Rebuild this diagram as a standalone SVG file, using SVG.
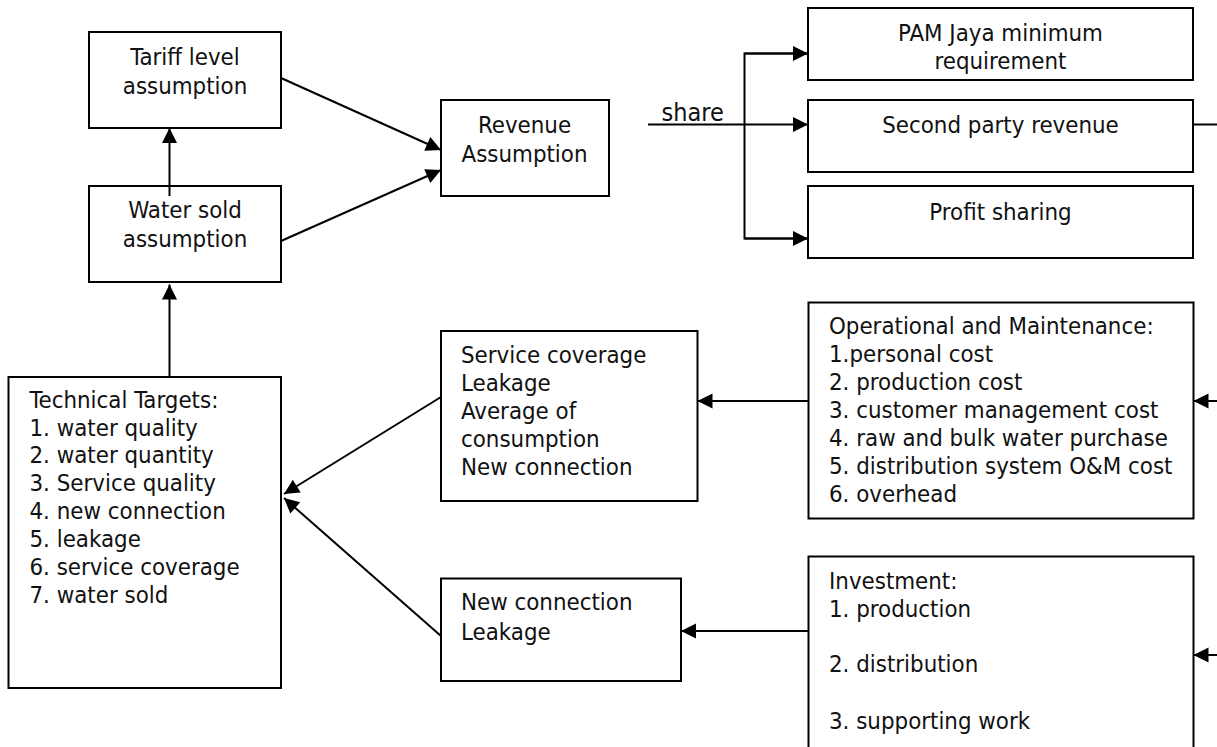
<svg xmlns="http://www.w3.org/2000/svg" width="1217" height="747" viewBox="0 0 1217 747">
<style>
.box{fill:#fff;stroke:#000;stroke-width:2}
.t{font-family:"DejaVu Sans Condensed","DejaVu Sans","Liberation Sans",sans-serif;font-stretch:condensed;font-size:23.8px;fill:#111}
.c{text-anchor:middle}
.ln{fill:none;stroke:#000;stroke-width:2}
</style>
<defs>
<marker id="ah" markerUnits="userSpaceOnUse" markerWidth="15" markerHeight="15" refX="15" refY="7.5" orient="auto" overflow="visible">
<path d="M0,0 L15,7.5 L0,15 z" fill="#000"/>
</marker>
</defs>
<rect width="1217" height="747" fill="#fff"/>

<g id="tariff">
<rect class="box" x="89" y="32" width="192" height="96"/>
<text class="t c" x="185" y="64.5">Tariff level</text>
<text class="t c" x="185" y="93.5">assumption</text>
</g>
<g id="watersold">
<rect class="box" x="89" y="186" width="192" height="96"/>
<text class="t c" x="185" y="218">Water sold</text>
<text class="t c" x="185" y="247">assumption</text>
</g>
<g id="revenue">
<rect class="box" x="441" y="100" width="168" height="96"/>
<text class="t c" x="524.5" y="133">Revenue</text>
<text class="t c" x="524.5" y="162">Assumption</text>
</g>
<g id="pam">
<rect class="box" x="808" y="8" width="385" height="72"/>
<text class="t c" x="1000.5" y="41">PAM Jaya minimum</text>
<text class="t c" x="1000.5" y="68.5">requirement</text>
</g>
<g id="secondparty">
<rect class="box" x="808" y="100" width="385" height="72"/>
<text class="t c" x="1000.5" y="133">Second party revenue</text>
</g>
<g id="profit">
<rect class="box" x="808" y="186" width="385" height="72"/>
<text class="t c" x="1000.5" y="220">Profit sharing</text>
</g>
<g id="technical">
<rect class="box" x="8.5" y="377" width="272.5" height="311"/>
<text class="t" x="29.5" y="408">Technical Targets:</text>
<text class="t" x="29.5" y="435.5">1. water quality</text>
<text class="t" x="29.5" y="463">2. water quantity</text>
<text class="t" x="29.5" y="490.5">3. Service quality</text>
<text class="t" x="29.5" y="518.5">4. new connection</text>
<text class="t" x="29.5" y="546.5">5. leakage</text>
<text class="t" x="29.5" y="574.5">6. service coverage</text>
<text class="t" x="29.5" y="603">7. water sold</text>
</g>
<g id="servicecov">
<rect class="box" x="441" y="331" width="256.5" height="170"/>
<text class="t" x="461" y="363">Service coverage</text>
<text class="t" x="461" y="390.5">Leakage</text>
<text class="t" x="461" y="418.5">Average of</text>
<text class="t" x="461" y="446.5">consumption</text>
<text class="t" x="461" y="475">New connection</text>
</g>
<g id="newconn">
<rect class="box" x="441" y="578.5" width="240" height="102.5"/>
<text class="t" x="461" y="610">New connection</text>
<text class="t" x="461" y="640">Leakage</text>
</g>
<g id="om">
<rect class="box" x="808.5" y="302.5" width="385" height="216"/>
<text class="t" x="829" y="333.5">Operational and Maintenance:</text>
<text class="t" x="829" y="361.5">1.personal cost</text>
<text class="t" x="829" y="390">2. production cost</text>
<text class="t" x="829" y="418">3. customer management cost</text>
<text class="t" x="829" y="446">4. raw and bulk water purchase</text>
<text class="t" x="829" y="474">5. distribution system O&amp;M cost</text>
<text class="t" x="829" y="502">6. overhead</text>
</g>
<g id="investment">
<rect class="box" x="808.5" y="556.5" width="385" height="200"/>
<text class="t" x="829" y="588.5">Investment:</text>
<text class="t" x="829" y="617">1. production</text>
<text class="t" x="829" y="672">2. distribution</text>
<text class="t" x="829" y="728.5">3. supporting work</text>
</g>

<g id="connectors">
<line class="ln" x1="169.5" y1="196" x2="169.5" y2="128" marker-end="url(#ah)"/>
<line class="ln" x1="169.5" y1="377" x2="169.5" y2="284.5" marker-end="url(#ah)"/>
<line class="ln" x1="281" y1="78" x2="441" y2="150" marker-end="url(#ah)"/>
<line class="ln" x1="281" y1="241" x2="441" y2="170" marker-end="url(#ah)"/>
<line class="ln" x1="648" y1="124.5" x2="808" y2="124.5" marker-end="url(#ah)"/>
<polyline class="ln" points="808,53.5 744.5,53.5 744.5,238.5 808,238.5"/>
<line class="ln" x1="744.5" y1="53.5" x2="808" y2="53.5" marker-end="url(#ah)"/>
<line class="ln" x1="744.5" y1="238.5" x2="808" y2="238.5" marker-end="url(#ah)"/>
<text class="t" x="661.5" y="121" style="font-size:25px">share</text>
<line class="ln" x1="1193" y1="124.5" x2="1217" y2="124.5"/>
<line class="ln" x1="808.5" y1="401" x2="697.5" y2="401" marker-end="url(#ah)"/>
<line class="ln" x1="808.5" y1="631" x2="681" y2="631" marker-end="url(#ah)"/>
<line class="ln" x1="1217" y1="401" x2="1193.5" y2="401" marker-end="url(#ah)"/>
<line class="ln" x1="1217" y1="655" x2="1193.5" y2="655" marker-end="url(#ah)"/>
<line class="ln" x1="441" y1="397" x2="284" y2="494" marker-end="url(#ah)"/>
<line class="ln" x1="441" y1="636" x2="284" y2="498" marker-end="url(#ah)"/>
</g>
</svg>
